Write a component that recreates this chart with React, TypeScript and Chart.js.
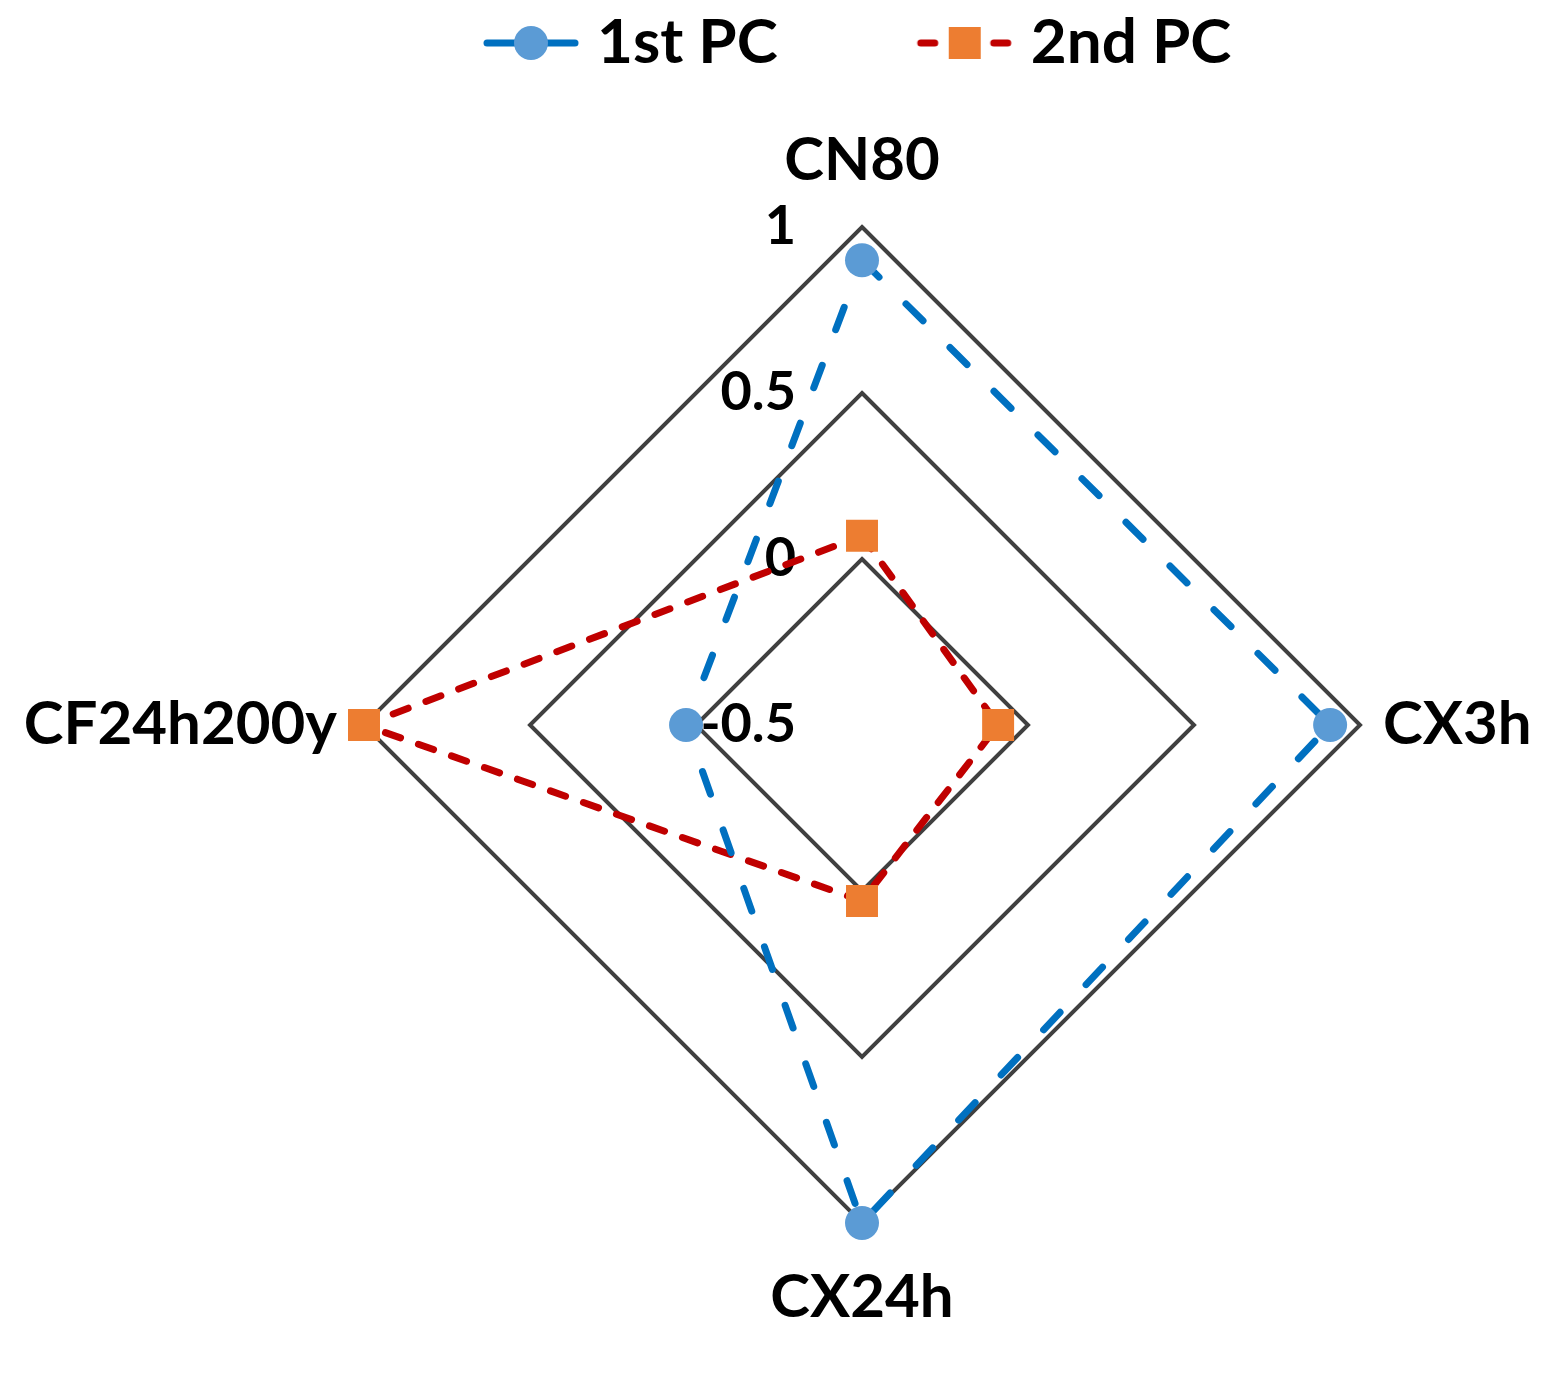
import React, { useEffect, useRef } from 'react';
import { Chart, registerables } from 'chart.js';

Chart.register(...registerables);

// ---- data ----
const categories = ['CN80', 'CX3h', 'CX24h', 'CF24h200y'];
const seriesNames = ['1st PC', '2nd PC'];
const pc1Values = [0.9, 0.91, 1.0, 0.03];
const pc2Values = [0.07, -0.09, 0.03, 1.0];
const tickValues = [-0.5, 0, 0.5, 1];
const tickLabels = ['-0.5', '0', '0.5', '1'];
const axisMin = -0.5;
const axisMax = 1;
const axisStep = 0.5;

// ---- style ----
const W = 1561;
const H = 1381;
const FONT = 'Lato';
const LABEL_SIZE = 60;
const TICK_SIZE = 54;
const LEGEND_SIZE = 62;
const BLUE_LINE = '#0070C0';
const BLUE_PT = '#5B9BD5';
const RED_LINE = '#C00000';
const ORANGE_PT = '#ED7D31';
const GRID = '#404040';
// extra distance beyond outer ring for each category label (top, right, bottom, left)
const LABEL_OFFSETS = [66, 23, 75, 27];

function makeLegendMarker(kind: 'circle' | 'rect'): HTMLCanvasElement {
  const c = document.createElement('canvas');
  c.width = 236;
  c.height = 44;
  const g = c.getContext('2d') as CanvasRenderingContext2D;
  const cx = 188;
  const cy = 22;
  g.lineCap = 'round';
  g.lineWidth = 7;
  if (kind === 'circle') {
    g.strokeStyle = BLUE_LINE;
    g.beginPath();
    g.moveTo(cx - 44, cy);
    g.lineTo(cx + 44, cy);
    g.stroke();
    g.fillStyle = BLUE_PT;
    g.beginPath();
    g.arc(cx, cy, 17, 0, Math.PI * 2);
    g.fill();
  } else {
    g.strokeStyle = RED_LINE;
    g.beginPath();
    g.moveTo(cx - 44, cy);
    g.lineTo(cx - 30, cy);
    g.moveTo(cx + 29, cy);
    g.lineTo(cx + 43, cy);
    g.stroke();
    g.fillStyle = ORANGE_PT;
    g.fillRect(cx - 16, cy - 16, 32, 32);
  }
  return c;
}

const radarTextPlugin = {
  id: 'radarText',
  beforeDatasetsDraw(chart: any) {
    const scale = chart.scales.r;
    const ctx = chart.ctx as CanvasRenderingContext2D;
    ctx.save();
    ctx.font = `bold ${TICK_SIZE}px ${FONT}`;
    ctx.fillStyle = '#000';
    ctx.textAlign = 'right';
    ctx.textBaseline = 'middle';
    tickValues.forEach((v, i) => {
      const d = scale.getDistanceFromCenterForValue(v);
      ctx.fillText(tickLabels[i], scale.xCenter - 66, scale.yCenter - d);
    });
    ctx.restore();
  },
  afterDraw(chart: any) {
    const scale = chart.scales.r;
    const ctx = chart.ctx as CanvasRenderingContext2D;
    const labels = chart.data.labels as string[];
    ctx.save();
    ctx.font = `bold ${LABEL_SIZE}px ${FONT}`;
    ctx.fillStyle = '#000';
    ctx.textBaseline = 'middle';
    labels.forEach((lab, i) => {
      const p = scale.getPointPosition(i, scale.drawingArea + LABEL_OFFSETS[i]);
      const cos = Math.cos(p.angle);
      if (Math.abs(cos) < 0.01) ctx.textAlign = 'center';
      else ctx.textAlign = cos > 0 ? 'left' : 'right';
      ctx.fillText(lab, p.x, p.y);
    });
    ctx.restore();
  },
};

export default function App() {
  const ref = useRef<HTMLCanvasElement | null>(null);

  useEffect(() => {
    document.body.style.margin = '0';
    document.body.style.overflow = 'hidden';
    const canvas = ref.current;
    if (!canvas) return;
    const markers = [makeLegendMarker('circle'), makeLegendMarker('rect')];
    Chart.defaults.font.family = FONT;

    const chart = new Chart(canvas, {
      type: 'radar',
      data: {
        labels: categories,
        datasets: [
          {
            label: seriesNames[0],
            data: pc1Values,
            borderColor: BLUE_LINE,
            borderWidth: 7,
            borderDash: [24, 38],
            borderCapStyle: 'round',
            fill: false,
            pointStyle: 'circle',
            pointRadius: 17,
            pointHoverRadius: 17,
            pointBackgroundColor: BLUE_PT,
            pointBorderWidth: 0,
            tension: 0,
          },
          {
            label: seriesNames[1],
            data: pc2Values,
            borderColor: RED_LINE,
            borderWidth: 7,
            borderDash: [16, 19],
            borderCapStyle: 'round',
            fill: false,
            pointStyle: 'rect',
            pointRadius: 22.6,
            pointHoverRadius: 22.6,
            pointBackgroundColor: ORANGE_PT,
            pointBorderWidth: 0,
            tension: 0,
          },
        ],
      },
      options: {
        responsive: false,
        animation: false,
        events: [],
        layout: { padding: { left: 344, right: 181, top: 0, bottom: 158 } },
        scales: {
          r: {
            min: axisMin,
            max: axisMax,
            ticks: { display: false, stepSize: axisStep },
            grid: { color: GRID, lineWidth: 4, circular: false },
            angleLines: { display: false },
            pointLabels: { display: false },
          },
        },
        plugins: {
          tooltip: { enabled: false },
          title: {
            display: true,
            text: '',
            position: 'top',
            weight: 500,
            padding: 0,
            font: { size: 143, lineHeight: 1 },
          },
          legend: {
            display: true,
            position: 'top',
            align: 'start',
            labels: {
              usePointStyle: true,
              pointStyleWidth: 210,
              padding: 12,
              color: '#000',
              font: { family: FONT, size: LEGEND_SIZE, weight: 'bold' },
              generateLabels: (ch: any) =>
                ch.data.datasets.map((ds: any, i: number) => ({
                  text: ds.label,
                  pointStyle: markers[i],
                  fillStyle: 'rgba(0,0,0,0)',
                  strokeStyle: 'rgba(0,0,0,0)',
                  lineWidth: 0,
                  hidden: false,
                  datasetIndex: i,
                  fontColor: '#000',
                })),
            },
          },
        },
      } as any,
      plugins: [radarTextPlugin],
    });
    return () => chart.destroy();
  }, []);

  return (
    <div style={{ width: W, height: H, background: '#fff' }}>
      <canvas ref={ref} width={W} height={H} style={{ width: W, height: H, display: 'block' }} />
    </div>
  );
}
